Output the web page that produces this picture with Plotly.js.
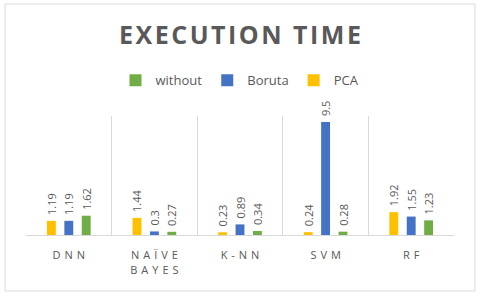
<!DOCTYPE html>
<html>
<head>
<meta charset="utf-8">
<script src="https://cdn.plot.ly/plotly-3.0.1.min.js"></script>
<style>html,body{margin:0;padding:0;background:#fff;}#chart{width:480px;height:296px;}</style>
</head>
<body>
<div id="chart"></div>
<script>
const categories = ["DNN", "NAÏVE BAYES", "K-NN", "SVM", "RF"];
const tickLabels = ["DNN", "NAÏVE<br>BAYES", "K-NN", "SVM", "RF"];
const pcaValues = [1.19, 1.44, 0.23, 0.24, 1.92];
const borutaValues = [1.19, 0.3, 0.89, 9.5, 1.55];
const withoutValues = [1.62, 0.27, 0.34, 0.28, 1.23];

const grey = "#595959";
const labelFont = {family: "Open Sans, sans-serif", size: 11, color: grey};

function spaced(s) {
  return s.split("<br>").map(line => line.split("").join(" \u200a")).join("<br>");
}

function series(name, values, color) {
  return {
    type: "bar", name: name, x: categories, y: values,
    marker: {color: color},
    text: values.map(v => "\u00a0" + v), textposition: "outside", textangle: -90,
    constraintext: "none",
    textfont: labelFont, cliponaxis: false, hoverinfo: "none"
  };
}

const data = [
  series("PCA", pcaValues, "#ffc000"),
  series("Boruta", borutaValues, "#4472c4"),
  series("without", withoutValues, "#70ad47")
];

const titleText = "EXECUTION TIME".split("").join("\u200a");

const layout = {
  width: 480, height: 296,
  margin: {l: 26, r: 26, t: 116, b: 61},
  paper_bgcolor: "#fff", plot_bgcolor: "#fff",
  title: {text: "<b>" + titleText + "</b>", x: 0.5, xanchor: "center", y: 0.88, yanchor: "middle",
          font: {family: "Open Sans, sans-serif", size: 25, color: grey}},
  showlegend: true,
  legend: {orientation: "h", traceorder: "reversed", x: 0.5, xanchor: "center", y: 1.3, yanchor: "middle",
           font: {family: "Open Sans, sans-serif", size: 13, color: grey}, itemwidth: 30},
  barmode: "group", bargap: 0.39, bargroupgap: 0.49,
  xaxis: {type: "category", tickvals: categories, ticktext: tickLabels.map(spaced), showgrid: true, gridcolor: "#d9d9d9",
          tickson: "boundaries", ticks: "", showline: true, linecolor: "#d9d9d9", linewidth: 1,
          ticklabelstandoff: 10,
          tickfont: {family: "Open Sans, sans-serif", size: 11, color: grey}, fixedrange: true},
  yaxis: {range: [0, 10], showgrid: false, zeroline: false, showticklabels: false, showline: false, fixedrange: true},
  shapes: [{type: "rect", xref: "paper", yref: "paper", x0: -0.049, x1: 1.049, y0: -0.47, y1: 1.941,
            line: {color: "#d9d9d9", width: 1}, fillcolor: "rgba(0,0,0,0)", layer: "below"}]
};

Plotly.newPlot("chart", data, layout, {displayModeBar: false, staticPlot: true});
</script>
</body>
</html>
